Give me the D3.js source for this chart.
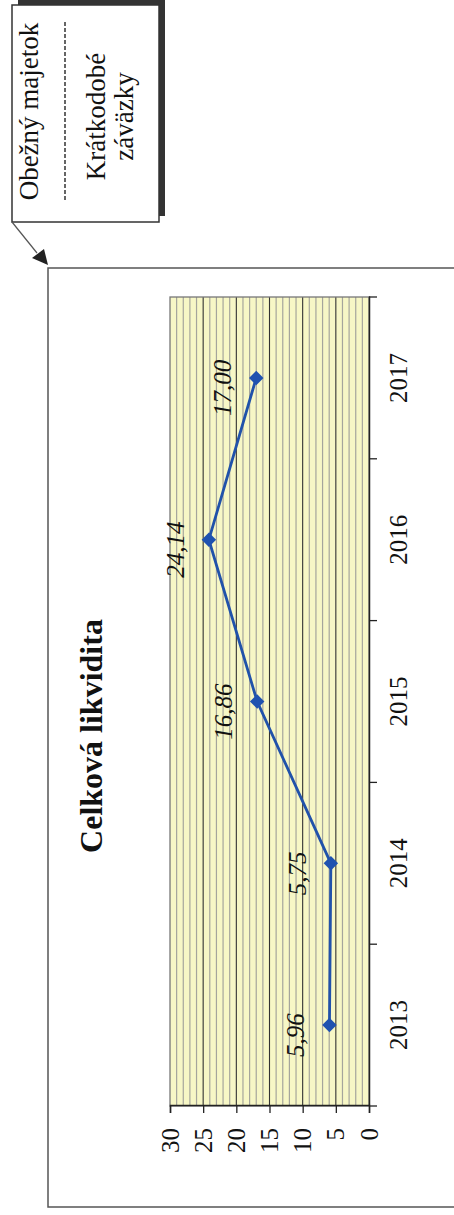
<!DOCTYPE html>
<html lang="sk">
<head>
<meta charset="UTF-8">
<title>Celková likvidita</title>
<script src="https://d3js.org/d3.v7.min.js"></script>
<style>
  body{margin:0;background:#fff}
  svg{display:block}
  text{font-family:"Liberation Serif","Times New Roman",serif;fill:#111}
  .title{font-weight:bold;font-size:32px}
  .tick text{font-size:25px}
  .lbl{font-style:italic;font-size:25px}
  .leg{font-size:27px}
</style>
</head>
<body>
<div id="chart"></div>
<script>
// data
const years=["2013","2014","2015","2016","2017"];
const values=[5.96,5.75,16.86,24.14,17.00];
const yTicks=[0,5,10,15,20,25,30];
const titleText="Celková likvidita";
const legendTop="Obežný majetok";
const legendBottom=["Krátkodobé","záväzky"];

const W=454,H=1215;
const svg=d3.select("#chart").append("svg").attr("width",W).attr("height",H);

/* everything is drawn in the chart's own orientation, then turned 90° left */
const g=svg.append("g").attr("transform",`translate(0,${H}) rotate(-90)`);

const plot={x0:109,x1:918,y0:170,y1:369};
const x=d3.scaleBand().domain(years).range([plot.x0,plot.x1]);
const y=d3.scaleLinear().domain([0,30]).range([plot.y1,plot.y0]);

/* outer frame */
g.append("rect").attr("x",8).attr("y",48).attr("width",939).attr("height",440)
  .attr("fill","none").attr("stroke","#555").attr("stroke-width",1.5);

/* plot background */
g.append("rect").attr("x",plot.x0).attr("y",plot.y0)
  .attr("width",plot.x1-plot.x0).attr("height",plot.y1-plot.y0)
  .attr("fill","#f7f7c6");

/* minor + major gridlines */
const minor=d3.range(1,30).filter(v=>v%5!==0);
g.selectAll(".minor").data(minor).join("line").attr("class","minor")
  .attr("x1",plot.x0).attr("x2",plot.x1).attr("y1",d=>y(d)).attr("y2",d=>y(d))
  .attr("stroke","#a5a59c").attr("stroke-width",1.2);
g.selectAll(".major").data(yTicks.filter(v=>v>0&&v<30)).join("line").attr("class","major")
  .attr("x1",plot.x0).attr("x2",plot.x1).attr("y1",d=>y(d)).attr("y2",d=>y(d))
  .attr("stroke","#333").attr("stroke-width",1.1);

/* plot border */
g.append("rect").attr("x",plot.x0).attr("y",plot.y0)
  .attr("width",plot.x1-plot.x0).attr("height",plot.y1-plot.y0)
  .attr("fill","none").attr("stroke","#777").attr("stroke-width",1.3);

/* value axis */
const ya=g.append("g").attr("transform",`translate(${plot.x0},0)`)
  .call(d3.axisLeft(y).tickValues(yTicks).tickSize(7).tickPadding(15));
ya.select(".domain").attr("stroke","#222").attr("stroke-width",1.5);
ya.selectAll(".tick line").attr("stroke","#222").attr("stroke-width",1.3);

/* category axis */
const xa=g.append("g").attr("transform",`translate(0,${plot.y1})`)
  .call(d3.axisBottom(x).tickSize(0).tickSizeOuter(0).tickPadding(20));
xa.select(".domain").attr("stroke","#222").attr("stroke-width",1.5);
const bounds=years.map(d=>x(d)).concat([x(years[years.length-1])+x.bandwidth()]);
xa.selectAll(".bt").data(bounds).join("line").attr("class","bt")
  .attr("x1",d=>d).attr("x2",d=>d).attr("y1",0).attr("y2",8)
  .attr("stroke","#222").attr("stroke-width",1.3);

/* series */
const pts=years.map((yr,i)=>({yr,v:values[i]}));
const cx=d=>x(d.yr)+x.bandwidth()/2;
g.append("path").datum(pts)
  .attr("d",d3.line().x(cx).y(d=>y(d.v)))
  .attr("fill","none").attr("stroke","#2152aa").attr("stroke-width",2.8);
g.selectAll(".mk").data(pts).join("path").attr("class","mk")
  .attr("d",d3.symbol(d3.symbolSquare,105))
  .attr("transform",d=>`translate(${cx(d)},${y(d.v)}) rotate(45)`)
  .attr("fill","#1f52b0");
g.selectAll(".lbl").data(pts).join("text").attr("class","lbl")
  .attr("x",d=>cx(d)-10).attr("y",d=>y(d.v)-25).attr("text-anchor","middle")
  .text(d=>d.v.toFixed(2).replace(".",","));

/* title */
g.append("text").attr("class","title").attr("x",479).attr("y",102)
  .attr("text-anchor","middle").text(titleText);

/* legend callout */
const box={x:993,y:12,w:217,h:147};
g.append("rect").attr("x",box.x+6).attr("y",box.y+6).attr("width",box.w).attr("height",box.h)
  .attr("fill","#333");
g.append("rect").attr("x",box.x).attr("y",box.y).attr("width",box.w).attr("height",box.h)
  .attr("fill","#fff").attr("stroke","#333").attr("stroke-width",1.5);
const lc=box.x+box.w/2;
g.append("text").attr("class","leg").attr("x",lc+2).attr("y",38)
  .attr("text-anchor","middle").text(legendTop);
g.append("line").attr("x1",box.x+22).attr("x2",box.x+box.w-15).attr("y1",65).attr("y2",65)
  .attr("stroke","#333").attr("stroke-width",1.5).attr("stroke-dasharray","4,2");
legendBottom.forEach((t,i)=>{
  g.append("text").attr("class","leg").attr("x",lc-3).attr("y",105+i*28)
    .attr("text-anchor","middle").text(t);
});

/* pointer from callout corner to chart frame */
g.append("line").attr("x1",box.x).attr("y1",box.y).attr("x2",962).attr("y2",37)
  .attr("stroke","#555").attr("stroke-width",1.2);
g.append("path").attr("d","M950,48 L957,32 L966,44 Z").attr("fill","#222");
</script>
</body>
</html>
